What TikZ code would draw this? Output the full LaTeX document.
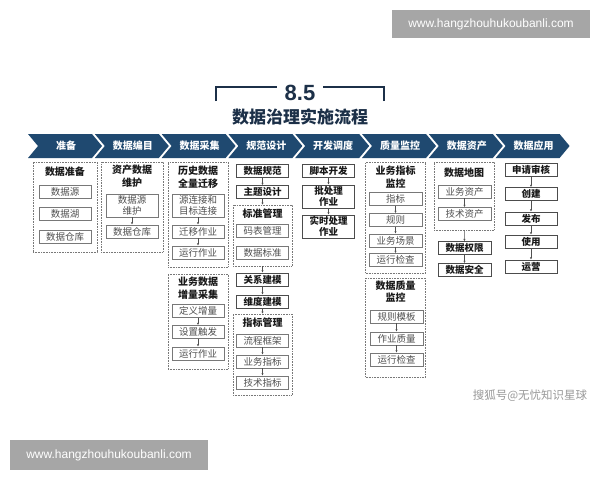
\documentclass[tikz,border=0pt]{standalone}
\usepackage{fontspec}
\setmainfont{Noto Sans CJK SC}
\newfontfamily\wm{Liberation Sans}
\usetikzlibrary{arrows.meta}
\definecolor{navy}{RGB}{31,73,112}
\definecolor{ttl}{RGB}{28,48,72}
\definecolor{bx}{RGB}{120,120,120}
\definecolor{txg}{RGB}{80,80,80}
\definecolor{wmg}{RGB}{166,166,166}
\tikzset{
  sb/.style={draw=bx, line width=0.8pt, fill=white, minimum width=52pt, minimum height=13pt, inner sep=0pt, text=txg, font=\fontsize{9.5}{11}\selectfont, align=center},
  bb/.style={sb, draw=black!70, text=black!90, font=\fontsize{9.5}{11}\selectfont\bfseries},
  db/.style={draw=bx, line width=0.6pt, densely dotted, inner sep=0pt},
  ttlb/.style={inner sep=0pt, text=black!90, font=\fontsize{10}{12.5}\selectfont\bfseries, align=center},
  arr/.style={draw=txg, line width=0.5pt, -{Latex[length=2.2pt,width=2.2pt]}},
  chv/.style={fill=navy, draw=none},
  chvt/.style={text=white, font=\fontsize{10}{12}\selectfont\bfseries, inner sep=0pt}
}
\begin{document}
\begin{tikzpicture}[x=1pt,y=-1pt]
\useasboundingbox (0,0) rectangle (600,480);
\fill[white] (0,0) rectangle (600,480);
% watermarks
\node[fill=wmg, minimum width=198pt, minimum height=28pt, inner sep=0pt, text=white, font=\wm\fontsize{12}{14}\selectfont] (wm1) at (491,24) {www.hangzhouhukoubanli.com};
\node[fill=wmg, minimum width=198pt, minimum height=30pt, inner sep=0pt, text=white, font=\wm\fontsize{12}{14}\selectfont] (wm2) at (109,455) {www.hangzhouhukoubanli.com};
\node[text=black!40, font=\fontsize{11.5}{13}\selectfont, inner sep=0pt] (sohu) at (530,396) {搜狐号@无忧知识星球};
% title
\node[text=ttl, font=\wm\bfseries\fontsize{22}{24}\selectfont, inner sep=0pt] (num) at (300,93) {8.5};
\coordinate (bl) at (216,101);
\coordinate (br) at (384,101);
\draw[ttl, line width=2.8pt] (bl) -- (216,87) -- (277,87);
\draw[ttl, line width=2.8pt] (br) -- (384,87) -- (323,87);
\node[text=ttl, font=\fontsize{17}{19}\selectfont\bfseries, inner sep=0pt] (title) at (300,117) {数据治理实施流程};
% chevrons
\foreach \i/\t in {0/准备,1/数据编目,2/数据采集,3/规范设计,4/开发调度,5/质量监控,6/数据资产,7/数据应用}{
  \pgfmathsetmacro{\L}{28+66.8*\i}
  \fill[chv] (\L,134) -- (\L+64,134) -- (\L+74,146) -- (\L+64,158) -- (\L,158) -- (\L+10,146) -- cycle;
  \node[chvt] (ch\i) at (\L+38,146) {\t};
}
% column 1
\node[db, minimum width=64pt, minimum height=90pt] (c1) at (65,207) {};
\node[ttlb] (c1t) at (65,172) {数据准备};
\node[sb] (c1a) at (65,191.5) {数据源};
\node[sb] (c1b) at (65,214) {数据湖};
\node[sb] (c1c) at (65,236.5) {数据仓库};
% column 2
\node[db, minimum width=62pt, minimum height=90pt] (c2) at (132,207) {};
\node[ttlb] (c2t) at (132,176) {资产数据\\维护};
\node[sb, minimum height=23pt, font=\fontsize{9.5}{11}\selectfont] (c2a) at (132,205.5) {数据源\\维护};
\node[sb] (c2b) at (132,231.5) {数据仓库};
\draw[arr] (c2a) -- (c2b);
% column 3
\node[db, minimum width=60pt, minimum height=105pt] (c3) at (198,214.5) {};
\node[ttlb] (c3t) at (198,177) {历史数据\\全量迁移};
\node[sb, minimum height=23pt] (c3a) at (198,205.5) {源连接和\\目标连接};
\node[sb] (c3b) at (198,231.5) {迁移作业};
\node[sb] (c3c) at (198,252.5) {运行作业};
\draw[arr] (c3a) -- (c3b);
\draw[arr] (c3b) -- (c3c);
\node[db, minimum width=60pt, minimum height=95pt] (c3d) at (198,321.5) {};
\node[ttlb] (c3dt) at (198,288) {业务数据\\增量采集};
\node[sb] (c3e) at (198,311) {定义增量};
\node[sb] (c3f) at (198,332) {设置触发};
\node[sb] (c3g) at (198,353.5) {运行作业};
\draw[arr] (c3e) -- (c3f);
\draw[arr] (c3f) -- (c3g);
% column 4
\node[bb] (c4a) at (262.5,170.5) {数据规范};
\node[bb] (c4b) at (262.5,192) {主题设计};
\node[db, minimum width=59pt, minimum height=61pt] (c4c) at (262.5,235.5) {};
\node[ttlb] (c4ct) at (262.5,213.5) {标准管理};
\node[sb] (c4d) at (262.5,230.5) {码表管理};
\node[sb] (c4e) at (262.5,252.5) {数据标准};
\node[bb] (c4f) at (262.5,279.5) {关系建模};
\node[bb] (c4g) at (262.5,301.5) {维度建模};
\node[db, minimum width=59pt, minimum height=81pt] (c4h) at (262.5,354.5) {};
\node[ttlb] (c4ht) at (262.5,322.5) {指标管理};
\node[sb] (c4i) at (262.5,340.5) {流程框架};
\node[sb] (c4j) at (262.5,361.5) {业务指标};
\node[sb] (c4k) at (262.5,382.5) {技术指标};
\draw[arr] (c4a) -- (c4b);
\draw[arr] (c4b) -- (c4c);
\draw[arr] (c4c) -- (c4f);
\draw[arr] (c4f) -- (c4g);
\draw[arr] (c4g) -- (c4h);
\draw[arr] (c4i) -- (c4j);
\draw[arr] (c4j) -- (c4k);
% column 5
\node[bb] (c5a) at (328.5,170.5) {脚本开发};
\node[bb, minimum height=23pt] (c5b) at (328.5,196.5) {批处理\\作业};
\node[bb, minimum height=23pt] (c5c) at (328.5,226.5) {实时处理\\作业};
\draw[arr] (c5a) -- (c5b);
\draw[arr] (c5b) -- (c5c);
% column 6
\node[db, minimum width=60pt, minimum height=111pt] (c6) at (395.5,217.5) {};
\node[ttlb] (c6t) at (395.5,177) {业务指标\\监控};
\node[sb, minimum width=53pt] (c6a) at (395.5,199) {指标};
\node[sb, minimum width=53pt] (c6b) at (395.5,220) {规则};
\node[sb, minimum width=53pt] (c6c) at (395.5,240.5) {业务场景};
\node[sb, minimum width=53pt] (c6d) at (395.5,260) {运行检查};
\draw[arr] (c6a) -- (c6b);
\draw[arr] (c6b) -- (c6c);
\draw[arr] (c6c) -- (c6d);
\node[db, minimum width=60pt, minimum height=99pt] (c6e) at (395.5,327.5) {};
\node[ttlb] (c6et) at (395.5,291.5) {数据质量\\监控};
\node[sb, minimum width=53pt] (c6f) at (396.5,316.5) {规则模板};
\node[sb, minimum width=53pt] (c6g) at (396.5,338.5) {作业质量};
\node[sb, minimum width=53pt] (c6h) at (396.5,359.5) {运行检查};
\draw[arr] (c6f) -- (c6g);
\draw[arr] (c6g) -- (c6h);
% column 7
\node[db, minimum width=60pt, minimum height=68pt] (c7) at (464,196) {};
\node[ttlb] (c7t) at (464,172.5) {数据地图};
\node[sb, minimum width=53pt] (c7a) at (464.5,191.5) {业务资产};
\node[sb, minimum width=53pt] (c7b) at (464.5,214) {技术资产};
\node[bb, minimum width=53pt] (c7c) at (464.5,248) {数据权限};
\node[bb, minimum width=53pt] (c7d) at (464.5,270) {数据安全};
\draw[arr] (c7a) -- (c7b);
\draw[arr] (c7) -- (c7c);
\draw[arr] (c7c) -- (c7d);
% column 8
\node[bb] (c8a) at (531,170) {申请审核};
\node[bb] (c8b) at (531,194) {创建};
\node[bb] (c8c) at (531,218.5) {发布};
\node[bb] (c8d) at (531,241.5) {使用};
\node[bb] (c8e) at (531,266.5) {运营};
\draw[arr] (c8a) -- (c8b);
\draw[arr] (c8b) -- (c8c);
\draw[arr] (c8c) -- (c8d);
\draw[arr] (c8d) -- (c8e);
\end{tikzpicture}
\end{document}
